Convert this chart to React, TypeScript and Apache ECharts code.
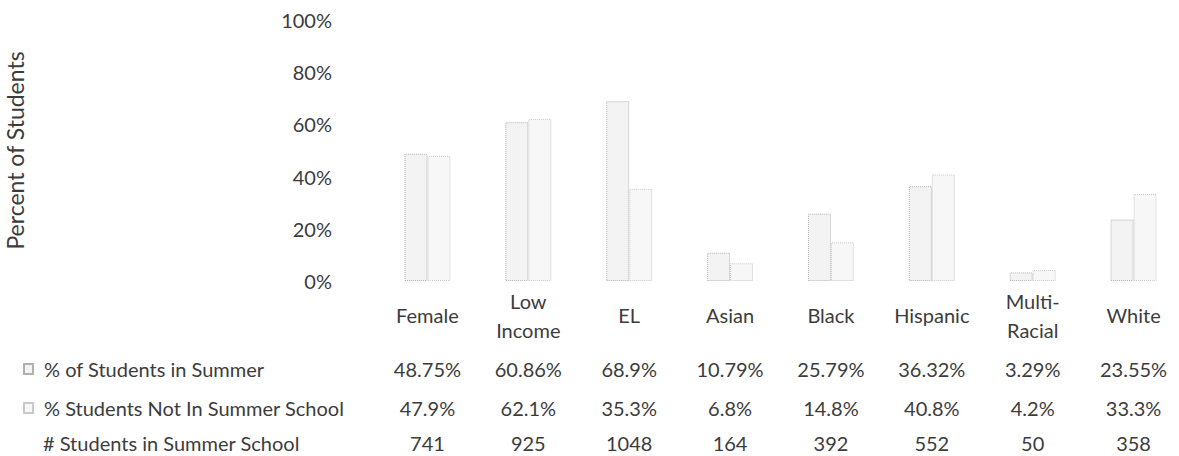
import React, { useEffect, useRef } from "react";
import * as echarts from "echarts";

const categories = ["Female", "Low\nIncome", "EL", "Asian", "Black", "Hispanic", "Multi-\nRacial", "White"];
const inSummerPct = [48.75, 60.86, 68.9, 10.79, 25.79, 36.32, 3.29, 23.55];
const notInSummerPct = [47.9, 62.1, 35.3, 6.8, 14.8, 40.8, 4.2, 33.3];
const inSummerCount = [741, 925, 1048, 164, 392, 552, 50, 358];
const seriesNames = ["% of Students in Summer", "% Students Not In Summer School", "# Students in Summer School"];
const yAxisTitle = "Percent of Students";

const FONT = "Lato";
const TEXT = "#3c3c3c";

export default function App() {
  const ref = useRef<HTMLDivElement>(null);
  useEffect(() => {
    if (!ref.current) return;
    const chart = echarts.init(ref.current, null, { renderer: "svg" });
    const tableAxis = (data: string[], offset: number, name?: string) => ({
      type: "category",
      data,
      gridIndex: 0,
      position: "bottom",
      offset,
      axisLine: { show: false },
      axisTick: { show: false },
      splitLine: { show: false },
      axisLabel: {
        margin: 0,
        verticalAlign: "middle",
        fontSize: 20,
        fontFamily: FONT,
        color: TEXT,
        interval: 0,
      },
      name: name || "",
      nameLocation: "start",
      nameGap: 334,
      nameTextStyle: {
        align: "left",
        verticalAlign: "middle",
        fontSize: 20,
        fontFamily: FONT,
        color: TEXT,
      },
    });
    const legendBase = {
      left: 23,
      padding: 0,
      orient: "vertical",
      icon: "rect",
      itemWidth: 9,
      itemHeight: 10,
      textStyle: { fontSize: 20, fontFamily: FONT, color: TEXT, padding: [0, 0, 0, 6] },
    };
    chart.setOption({
      animation: false,
      textStyle: { fontFamily: FONT },
      grid: { left: 377, right: -5, top: 20, bottom: 175, outerBoundsMode: "none", containLabel: false },
      legend: [
        { ...legendBase, data: [seriesNames[0]], top: 359 },
        { ...legendBase, data: [seriesNames[1]], top: 398 },
      ],
      xAxis: [
        {
          type: "category",
          data: categories,
          axisLine: { show: false },
          axisTick: { show: false },
          axisLabel: {
            margin: 34,
            verticalAlign: "middle",
            lineHeight: 29,
            fontSize: 20,
            fontFamily: FONT,
            color: TEXT,
            interval: 0,
          },
        },
        tableAxis(inSummerPct.map((v) => v + "%"), 88),
        tableAxis(notInSummerPct.map((v) => v + "%"), 127),
        tableAxis(inSummerCount.map((v) => String(v)), 162, seriesNames[2]),
      ],
      yAxis: {
        type: "value",
        min: 0,
        max: 100,
        interval: 20,
        axisLine: { show: false },
        axisTick: { show: false },
        splitLine: { show: false },
        axisLabel: {
          formatter: "{value}%",
          margin: 45,
          fontSize: 20,
          fontFamily: FONT,
          color: TEXT,
        },
        name: yAxisTitle,
        nameLocation: "middle",
        nameGap: 351,
        nameTextStyle: { fontSize: 23, fontFamily: FONT, color: TEXT },
      },
      series: [
        {
          name: seriesNames[0],
          type: "bar",
          data: inSummerPct,
          barWidth: 23,
          barGap: "0%",
          itemStyle: {
            color: "#f3f3f3",
            borderColor: "#b0b0b0",
            borderWidth: 1,
            borderType: "dotted",
          },
        },
        {
          name: seriesNames[1],
          type: "bar",
          data: notInSummerPct,
          barWidth: 23,
          barGap: "0%",
          itemStyle: {
            color: "#f7f7f7",
            borderColor: "#c8c8c8",
            borderWidth: 1,
            borderType: "dotted",
          },
        },
      ],
    });
    return () => chart.dispose();
  }, []);
  return (
    <div
      ref={ref}
      style={{ position: "fixed", left: 0, top: 0, width: 1179, height: 456, background: "#fff" }}
    />
  );
}
